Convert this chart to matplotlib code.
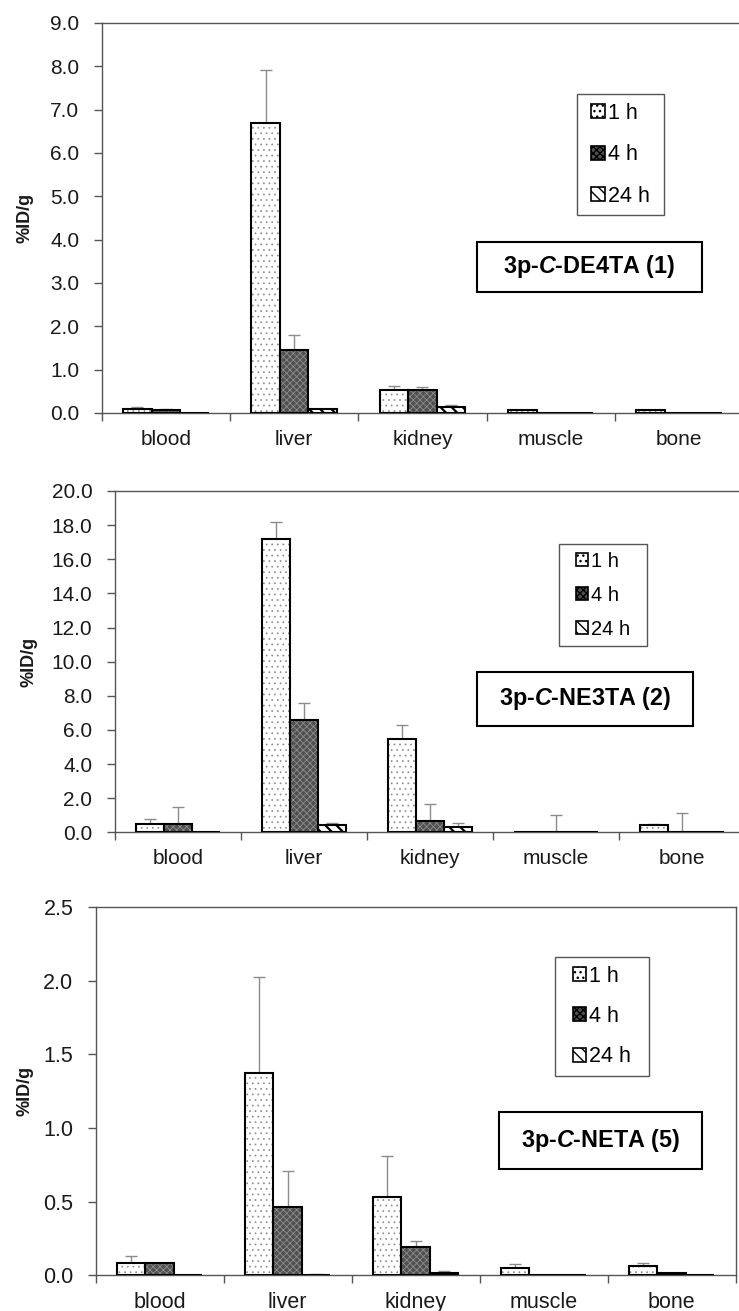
import numpy as np
import matplotlib
matplotlib.use("Agg")
import matplotlib.pyplot as plt
import matplotlib.transforms as mtransforms
from matplotlib.patches import Patch, Rectangle
from matplotlib.ticker import FormatStrFormatter, MultipleLocator

plt.rcParams["font.family"] = ["Liberation Sans", "DejaVu Sans"]
plt.rcParams["mathtext.fontset"] = "custom"
plt.rcParams["mathtext.it"] = "Liberation Sans:italic:bold"

organs = ["blood", "liver", "kidney", "muscle", "bone"]
times = ["1 h", "4 h", "24 h"]

# 3p-C-DE4TA (1)
de4ta_1h = [0.09, 6.69, 0.53, 0.06, 0.07]
de4ta_1h_err = [0.05, 1.22, 0.09, 0.01, 0.01]
de4ta_4h = [0.08, 1.45, 0.52, 0.01, 0.01]
de4ta_4h_err = [0.01, 0.35, 0.09, 0.0, 0.0]
de4ta_24h = [0.005, 0.09, 0.13, 0.005, 0.005]
de4ta_24h_err = [0.0, 0.01, 0.06, 0.0, 0.0]

# 3p-C-NE3TA (2)
ne3ta_1h = [0.5, 17.16, 5.45, 0.03, 0.41]
ne3ta_1h_err = [0.3, 1.0, 0.85, 0.0, 0.05]
ne3ta_4h = [0.5, 6.6, 0.66, 0.01, 0.01]
ne3ta_4h_err = [1.0, 1.0, 0.98, 1.0, 1.1]
ne3ta_24h = [0.02, 0.41, 0.31, 0.01, 0.02]
ne3ta_24h_err = [0.0, 0.15, 0.25, 0.0, 0.0]

# 3p-C-NETA (5)
neta_1h = [0.086, 1.37, 0.53, 0.052, 0.063]
neta_1h_err = [0.047, 0.657, 0.28, 0.023, 0.023]
neta_4h = [0.086, 0.466, 0.19, 0.003, 0.018]
neta_4h_err = [0.0, 0.24, 0.045, 0.0, 0.0]
neta_24h = [0.003, 0.005, 0.018, 0.003, 0.005]
neta_24h_err = [0.0, 0.006, 0.008, 0.0, 0.0]

W, H = 739, 1311
fig = plt.figure(figsize=(W / 100, H / 100), dpi=100)


def px_rect(x0, y0, x1, y1):
    # pixel box (top-left origin) -> figure fraction rect
    return [x0 / W, 1 - y1 / H, (x1 - x0) / W, (y1 - y0) / H]


styles = [
    dict(face="white", hatch="...", hc="#8a8a8a", hlw=0.5),
    dict(face="#505050", hatch="xxxxx", hc="#8e8e8e", hlw=0.6),
    dict(face="white", hatch="\\\\\\", hc="black", hlw=1.6),
]


def panel(rect, means, errs, ymax, ystep, fmt, label, leg_box, lab_box,
          fs, leg_fs, leg_space, ylab_px):
    ax = fig.add_axes(px_rect(*rect))
    x = np.arange(len(organs))
    w = 0.222
    handles = []
    for k in range(3):
        xs = x + (k - 1) * w
        st = styles[k]
        with plt.rc_context({"hatch.linewidth": st["hlw"]}):
            ax.bar(xs, means[k], w, color=st["face"], hatch=st["hatch"],
                   edgecolor=st["hc"], linewidth=0, zorder=2)
            handles.append(Patch(facecolor=st["face"], hatch=st["hatch"],
                                 edgecolor="black", linewidth=1.2))
        ax.bar(xs, means[k], w, fill=False, edgecolor="black",
               linewidth=1.5, zorder=3)
        ax.errorbar(xs, means[k], yerr=[np.zeros(len(organs)), errs[k]],
                    fmt="none", ecolor="#8c8c8c", elinewidth=1,
                    capsize=4, capthick=1, zorder=1)

    ax.set_xlim(-0.5, len(organs) - 0.5)
    ax.set_ylim(0, ymax)
    ax.yaxis.set_major_locator(MultipleLocator(ystep))
    ax.yaxis.set_major_formatter(FormatStrFormatter(fmt))
    ax.set_xticks(x)
    ax.set_xticklabels(organs)
    ax.set_xticks(np.arange(-0.5, len(organs)), minor=True)
    ax.tick_params(axis="x", which="major", length=0, pad=12,
                   labelsize=fs, labelcolor="#1a1a1a")
    ax.tick_params(axis="x", which="minor", length=6, width=1,
                   color="#555555")
    ax.tick_params(axis="y", length=6, width=1, color="#555555", pad=10,
                   labelsize=fs, labelcolor="#1a1a1a")
    for s in ax.spines.values():
        s.set_color("#555555")
        s.set_linewidth(1)

    ax.set_ylabel("%ID/g", fontsize=13, fontweight="bold", color="#1a1a1a")
    tr = mtransforms.blended_transform_factory(fig.transFigure, ax.transAxes)
    ax.yaxis.set_label_coords(ylab_px / W, 0.5, transform=tr)

    lx0, ly0, lx1, ly1 = leg_box
    ax.legend(handles, times, loc="center",
              bbox_to_anchor=((lx0 + lx1) / 2 / W, 1 - (ly0 + ly1) / 2 / H),
              bbox_transform=fig.transFigure, frameon=False,
              fontsize=leg_fs, handlelength=0.62, handleheight=0.62,
              handletextpad=0.15, labelspacing=leg_space, borderpad=0)
    fig.add_artist(Rectangle(px_rect(*leg_box)[:2], *px_rect(*leg_box)[2:],
                             transform=fig.transFigure, fill=False,
                             edgecolor="#555555", linewidth=1))

    bx0, by0, bx1, by1 = lab_box
    fig.add_artist(Rectangle(px_rect(*lab_box)[:2], *px_rect(*lab_box)[2:],
                             transform=fig.transFigure, fill=False,
                             edgecolor="black", linewidth=1.5))
    fig.text((bx0 + bx1) / 2 / W, 1 - (by0 + by1) / 2 / H, label,
             ha="center", va="center", fontsize=16.8, fontweight="bold")
    return ax


panel((101.7, 23, 743.2, 413),
      [de4ta_1h, de4ta_4h, de4ta_24h],
      [de4ta_1h_err, de4ta_4h_err, de4ta_24h_err],
      9.0, 1.0, "%.1f", r"3p-$\mathit{C}$-DE4TA (1)",
      (577, 94.3, 664.3, 215), (476.7, 241.7, 702.3, 292.3),
      15, 15.5, 0.95, 33)

panel((114.7, 491, 744.7, 832.3),
      [ne3ta_1h, ne3ta_4h, ne3ta_24h],
      [ne3ta_1h_err, ne3ta_4h_err, ne3ta_24h_err],
      20.0, 2.0, "%.1f", r"3p-$\mathit{C}$-NE3TA (2)",
      (559, 544.3, 646.7, 646.3), (476.7, 671.7, 693.3, 725.7),
      15, 14.5, 0.75, 37.3)

panel((95.7, 907, 735.7, 1275.3),
      [neta_1h, neta_4h, neta_24h],
      [neta_1h_err, neta_4h_err, neta_24h_err],
      2.5, 0.5, "%.1f", r"3p-$\mathit{C}$-NETA (5)",
      (555.3, 957.3, 648.7, 1075.7), (499, 1112.3, 702, 1169.3),
      15.5, 15.5, 0.9, 33.3)

fig.savefig("out.png", dpi=100)
